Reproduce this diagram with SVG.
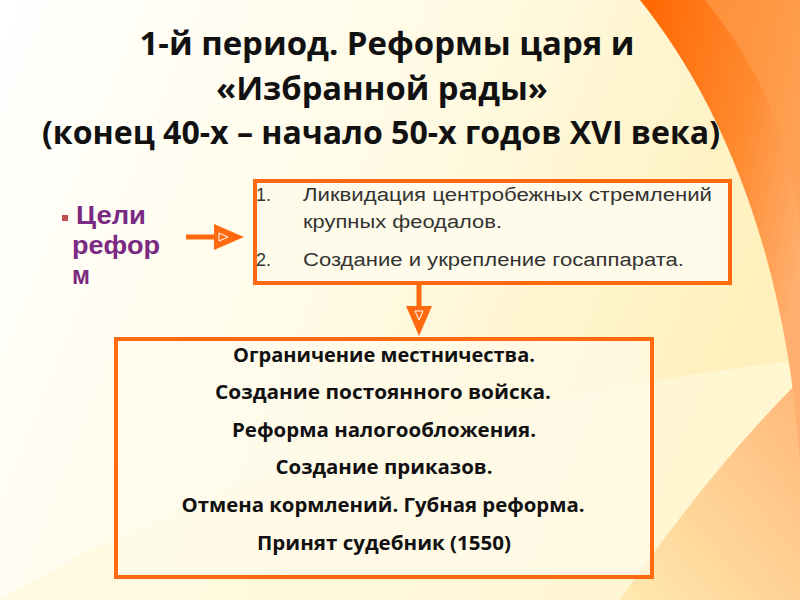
<svg xmlns="http://www.w3.org/2000/svg" width="800" height="600" viewBox="0 0 800 600">
<defs>
<linearGradient id="bg" x1="0" y1="0" x2="1" y2="0.3">
<stop offset="0" stop-color="#FFFFFF"/>
<stop offset="0.5" stop-color="#FFFBE6"/>
<stop offset="1" stop-color="#FFF0BC"/>
</linearGradient>
<linearGradient id="or" x1="0" y1="0" x2="1" y2="0.6">
<stop offset="0" stop-color="#FF6600"/>
<stop offset="0.6" stop-color="#FF8A30"/>
<stop offset="1" stop-color="#FFB070"/>
</linearGradient>
<linearGradient id="yl" x1="0" y1="1" x2="1" y2="0">
<stop offset="0" stop-color="#FFE9B0"/>
<stop offset="1" stop-color="#FFB878"/>
</linearGradient>
<marker id="ah" viewBox="0 0 30 26" refX="2" refY="13" markerWidth="30" markerHeight="26" markerUnits="userSpaceOnUse" orient="auto">
<path d="M0 0 L30 13 L0 26 Z" fill="#FF6A10"/>
<path d="M5 9 L14 13 L5 17 Z" fill="none" stroke="#FFFFFF" stroke-width="1"/>
</marker>
<style>
.box{stroke:#FF6A10;stroke-width:4}
.conn{stroke:#FF6A10;stroke-width:5;fill:none}
.title{font-family:"Open Sans","DejaVu Sans",sans-serif;font-weight:bold;font-size:32px;fill:#111;text-anchor:middle}
.goal{font-family:"Liberation Sans",Arial,sans-serif;font-weight:bold;font-size:25px;fill:#7A2A82}
.item{font-family:"Liberation Sans",Arial,sans-serif;font-size:18px;fill:#333}
.ref{font-family:"Open Sans","DejaVu Sans",sans-serif;font-weight:bold;font-size:19.5px;fill:#111;text-anchor:middle}
</style>
</defs>
<g id="background">
<rect x="0" y="0" width="800" height="600" fill="url(#bg)"/>
<path d="M0 600 Q300 420 800 360 L800 600 Z" fill="#FFF8DC" opacity="0.7"/>
<path d="M620 600 Q710 470 800 380 L800 600 Z" fill="url(#yl)"/>
<path d="M640 0 C720 100 785 250 800 460 L800 0 Z" fill="url(#or)"/>
<path d="M705 0 C770 80 795 160 800 230 L800 0 Z" fill="#FFA050" opacity="0.6"/>
</g>
<g id="title">
<text class="title" x="387" y="55" textLength="495" lengthAdjust="spacingAndGlyphs">1-й период. Реформы царя и</text>
<text class="title" x="382" y="100" textLength="332" lengthAdjust="spacingAndGlyphs">«Избранной рады»</text>
<text class="title" x="381" y="144" textLength="678" lengthAdjust="spacingAndGlyphs">(конец 40-х – начало 50-х годов XVI века)</text>
</g>
<g id="goals">
<rect x="62" y="215" width="6" height="6" fill="#C0504D"/>
<text class="goal" x="76" y="224" textLength="70" lengthAdjust="spacingAndGlyphs">Цели</text>
<text class="goal" x="72" y="254" textLength="88" lengthAdjust="spacingAndGlyphs">рефор</text>
<text class="goal" x="72" y="284" textLength="18" lengthAdjust="spacingAndGlyphs">м</text>
</g>
<g id="connectors">
<line class="conn" x1="186" y1="237" x2="216" y2="237" marker-end="url(#ah)"/>
<line class="conn" x1="419" y1="283" x2="419" y2="308" marker-end="url(#ah)"/>
</g>
<g id="aims">
<rect class="box" x="255" y="181" width="475" height="102" fill="#FFFBEA"/>
<text class="item" x="256" y="201">1.</text>
<text class="item" x="303" y="201" textLength="409" lengthAdjust="spacingAndGlyphs">Ликвидация центробежных стремлений</text>
<text class="item" x="303" y="228" textLength="199" lengthAdjust="spacingAndGlyphs">крупных феодалов.</text>
<text class="item" x="256" y="266">2.</text>
<text class="item" x="303" y="266" textLength="381" lengthAdjust="spacingAndGlyphs">Создание и укрепление госаппарата.</text>
</g>
<g id="reforms">
<rect class="box" x="116" y="339" width="536" height="238" fill="#FFFCEE" fill-opacity="0.6"/>
<text class="ref" x="384" y="362" textLength="302" lengthAdjust="spacingAndGlyphs">Ограничение местничества.</text>
<text class="ref" x="383" y="399" textLength="336" lengthAdjust="spacingAndGlyphs">Создание постоянного войска.</text>
<text class="ref" x="384" y="437" textLength="304" lengthAdjust="spacingAndGlyphs">Реформа налогообложения.</text>
<text class="ref" x="384" y="474" textLength="217" lengthAdjust="spacingAndGlyphs">Создание приказов.</text>
<text class="ref" x="383" y="512" textLength="403" lengthAdjust="spacingAndGlyphs">Отмена кормлений. Губная реформа.</text>
<text class="ref" x="384" y="550" textLength="254" lengthAdjust="spacingAndGlyphs">Принят судебник (1550)</text>
</g>
</svg>
